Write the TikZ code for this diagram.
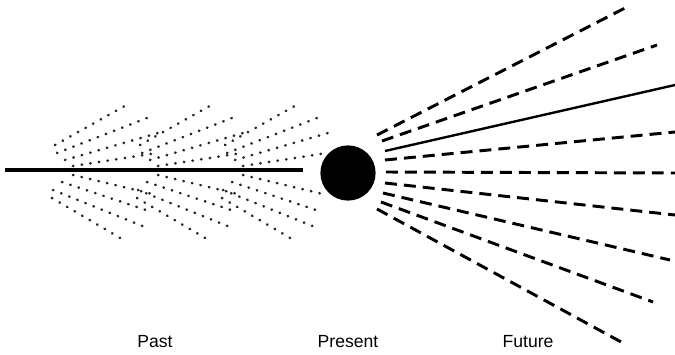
\documentclass[tikz,border=0pt]{standalone}
\usepackage{fontspec}
\setmainfont{Liberation Sans}
\usetikzlibrary{positioning}

\begin{document}
\begin{tikzpicture}[
  x=0.025cm, y=-0.025cm,
  label/.style={font=\fontsize{12.5}{14}\selectfont, inner sep=0pt},
  pastline/.style={line width=2.4pt},
  dotray/.style={line width=1.9pt, line cap=round, dash pattern=on 0.3pt off 5.9pt, black!85},
  dashray/.style={line width=2.1pt, dash pattern=on 8.5pt off 5pt},
  solidray/.style={line width=1.7pt}
]
\useasboundingbox (0,0) rectangle (675,354);
\node[circle, fill=black, minimum size=1.38cm, inner sep=0pt] (now) at (348,173) {};
\coordinate (start) at (5,170);
\coordinate (stop) at (303,170);
\draw[pastline] (start) -- (stop);
\foreach \s in {0,85,170}{
  \foreach \xa/\ya/\xb/\yb in {55/145/130/103, 57/153/147/118, 65/160/158/133, 73/166/157/153,
                               73/175/157/195, 62/182/152/212, 53/190/145/227, 52/198/127/242}{
    \draw[dotray] (\xa+\s,\ya) -- (\xb+\s,\yb);
  }
}
\foreach \xa/\ya/\xb/\yb in {377/135/627/7, 382/141/657/45, 385/160/675/132, 386/172/675/173,
                             385/183/675/215, 383/193/670/260, 381/202/653/302, 377/209/623/343}{
  \draw[dashray] (\xa,\ya) -- (\xb,\yb);
}
\coordinate (top) at (675,85);
\draw[solidray] (385,151) -- (top);
\node[label] (past) at (155,342) {Past};
\node[label] (present) at (348,342) {Present};
\node[label] (future) at (528,342) {Future};
\end{tikzpicture}
\end{document}
